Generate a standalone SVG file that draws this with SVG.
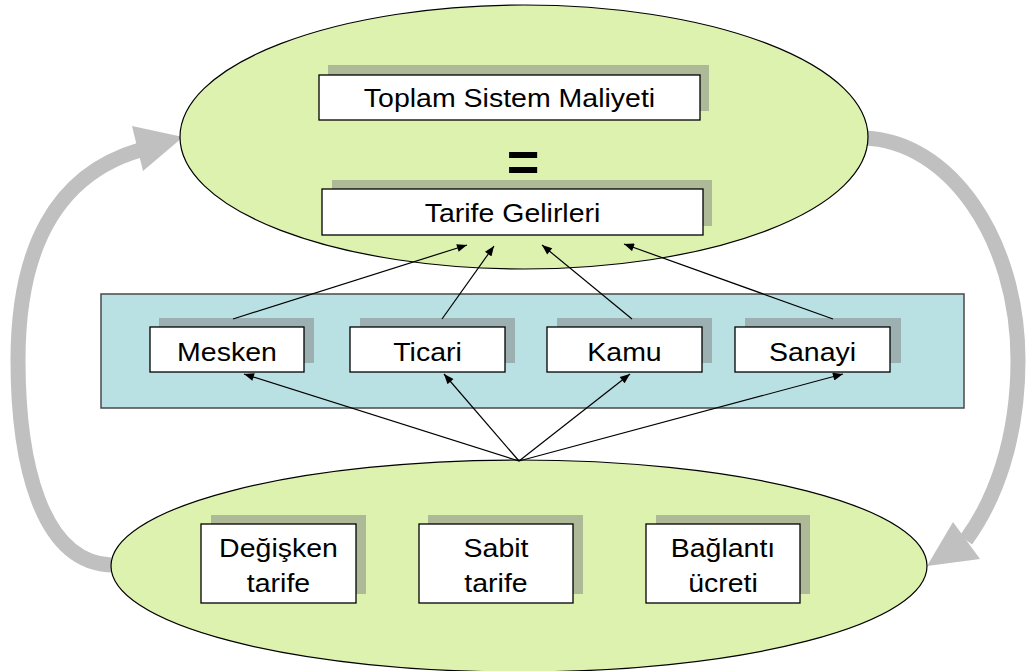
<svg xmlns="http://www.w3.org/2000/svg" width="1026" height="671" viewBox="0 0 1026 671">
<defs>
<style>
.ell{fill:#dcf2ae;stroke:#000;stroke-width:1.2}
.band{fill:#b9e0e2;stroke:#4a4a4a;stroke-width:1.5}
.box{fill:#fff;stroke:#000;stroke-width:1.3}
.sh{fill:#808080;fill-opacity:0.5}
.t{font-family:"Liberation Sans",Arial,sans-serif;font-size:25px;fill:#000;text-anchor:middle}
.eq{font-family:"Liberation Sans",Arial,sans-serif;font-size:56px;font-weight:bold;fill:#000;text-anchor:middle}
.gray{fill:none;stroke:#c0c0c0;stroke-width:15}
.grayhead{fill:#c0c0c0}
.con{fill:none;stroke:#000;stroke-width:1.2;marker-end:url(#ah)}
</style>
<marker id="ah" viewBox="0 0 10 8" refX="10" refY="4" markerWidth="11" markerHeight="8" markerUnits="userSpaceOnUse" orient="auto">
<path d="M0,0 L10,4 L0,8 Z" fill="#000"/>
</marker>
</defs>
<rect width="1026" height="671" fill="#fff"/>

<g id="cycle-arrows">
<path class="gray" d="M111,565 C40,562 18,460 18,360 C18,250 55,175 140,150"/>
<polygon class="grayhead" points="183,137 132,126 143,171"/>
<path class="gray" d="M863,138 C950,140 1018,240 1018,360 C1018,440 995,500 966,540"/>
<polygon class="grayhead" points="927,566 953,522 980,559"/>
</g>

<g id="top-ellipse">
<ellipse class="ell" cx="524" cy="137" rx="344" ry="132"/>
</g>

<g id="node-toplam">
<rect class="sh" x="328" y="65" width="381" height="46"/>
<rect class="box" x="319" y="75" width="381" height="45"/>
<text class="t" transform="matrix(1.14 0 0 1 509.5 107)">Toplam Sistem Maliyeti</text>
</g>

<g id="equals">
<text class="eq" x="523" y="181">=</text>
</g>

<g id="node-tarife">
<rect class="sh" x="332" y="180" width="380" height="46"/>
<rect class="box" x="322" y="189" width="381" height="46"/>
<text class="t" transform="matrix(1.14 0 0 1 512.5 222)">Tarife Gelirleri</text>
</g>

<g id="sector-band">
<rect class="band" x="101" y="294" width="863" height="114"/>
</g>

<g id="node-mesken">
<rect class="sh" x="159" y="318" width="155" height="45"/>
<rect class="box" x="150" y="327" width="154" height="45"/>
<text class="t" transform="matrix(1.14 0 0 1 227 361)">Mesken</text>
</g>
<g id="node-ticari">
<rect class="sh" x="360" y="318" width="155" height="45"/>
<rect class="box" x="350" y="327" width="155" height="45"/>
<text class="t" transform="matrix(1.14 0 0 1 427.5 361)">Ticari</text>
</g>
<g id="node-kamu">
<rect class="sh" x="557" y="318" width="155" height="45"/>
<rect class="box" x="547" y="327" width="155" height="45"/>
<text class="t" transform="matrix(1.14 0 0 1 624.5 361)">Kamu</text>
</g>
<g id="node-sanayi">
<rect class="sh" x="745" y="318" width="156" height="45"/>
<rect class="box" x="735" y="327" width="155" height="45"/>
<text class="t" transform="matrix(1.14 0 0 1 812.5 361)">Sanayi</text>
</g>

<g id="bottom-ellipse">
<ellipse class="ell" cx="519" cy="566" rx="408" ry="106"/>
</g>

<g id="node-degisken">
<rect class="sh" x="211" y="515" width="155" height="79"/>
<rect class="box" x="201" y="524" width="155" height="79"/>
<text class="t" transform="matrix(1.14 0 0 1 278.5 557)">Değişken</text>
<text class="t" transform="matrix(1.14 0 0 1 278.5 592)">tarife</text>
</g>
<g id="node-sabit">
<rect class="sh" x="428" y="515" width="155" height="79"/>
<rect class="box" x="419" y="524" width="154" height="79"/>
<text class="t" transform="matrix(1.14 0 0 1 496 557)">Sabit</text>
<text class="t" transform="matrix(1.14 0 0 1 496 592)">tarife</text>
</g>
<g id="node-baglanti">
<rect class="sh" x="656" y="515" width="154" height="79"/>
<rect class="box" x="646" y="524" width="154" height="79"/>
<text class="t" transform="matrix(1.14 0 0 1 723 557)">Bağlantı</text>
<text class="t" transform="matrix(1.14 0 0 1 723 592)">ücreti</text>
</g>

<g id="connectors">
<line class="con" x1="233" y1="319" x2="467" y2="245"/>
<line class="con" x1="442" y1="319" x2="494" y2="246"/>
<line class="con" x1="632" y1="319" x2="542" y2="245"/>
<line class="con" x1="833" y1="319" x2="624" y2="244"/>
<line class="con" x1="519" y1="461" x2="244" y2="374"/>
<line class="con" x1="519" y1="461" x2="444" y2="374"/>
<line class="con" x1="519" y1="461" x2="630" y2="374"/>
<line class="con" x1="519" y1="461" x2="843" y2="374"/>
</g>
</svg>
